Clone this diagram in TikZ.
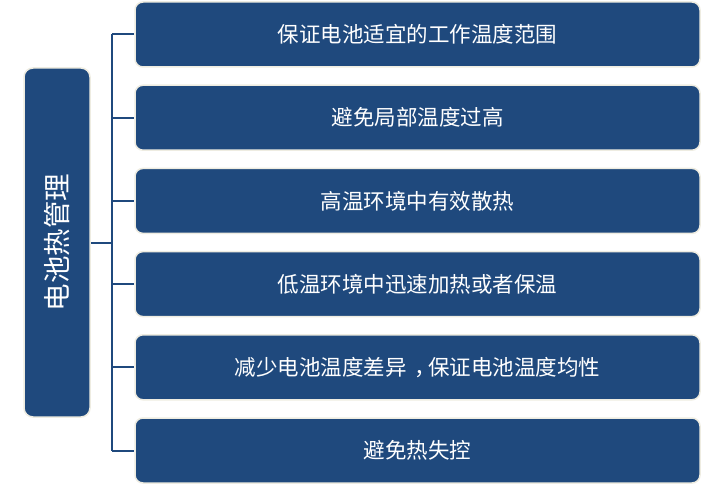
\documentclass[tikz,border=0pt]{standalone}
\usepackage{fontspec}
\newfontfamily\cjk{Noto Sans CJK SC}
\definecolor{navy}{RGB}{31,73,125}
\definecolor{cream}{RGB}{238,236,225}
\newcommand{\midcomma}{\makebox[1em][c]{\makebox[0.3em][l]{，}}}
\begin{document}
\begin{tikzpicture}[x=1pt,y=1pt,
  box/.style={draw=cream,line width=1.5pt,fill=navy,rounded corners=8pt,text=white,
    minimum width=565pt,minimum height=65pt,inner sep=0pt,font=\cjk\fontsize{21.5pt}{25pt}\selectfont},
  mainbox/.style={draw=cream,line width=1.5pt,fill=navy,rounded corners=9pt,
    minimum width=66pt,minimum height=349pt,inner sep=0pt},
  conn/.style={draw=navy,line width=2pt}]
\useasboundingbox (0,0) rectangle (725,488);
\node[mainbox] (L) at (57,245.5) {};
\node[rotate=90,text=white,font=\cjk\fontsize{27.5pt}{31pt}\selectfont] (Lt) at (L.center) {电池热管理};
\node[box] (b1) at (417.5,453.5) {保证电池适宜的工作温度范围};
\node[box] (b2) at (417.5,370.3) {避免局部温度过高};
\node[box] (b3) at (417.5,287.1) {高温环境中有效散热};
\node[box] (b4) at (417.5,203.9) {低温环境中迅速加热或者保温};
\node[box] (b5) at (417.5,120.7) {减少电池温度差异\midcomma 保证电池温度均性};
\node[box] (b6) at (417.5,37.5) {避免热失控};
\coordinate (spine) at (112,245.5);
\draw[conn] (L.east) -- (spine);
\draw[conn] (b1.west -| spine) -- (b6.west -| spine);
\foreach \b in {b1,b2,b3,b4,b5,b6}{
  \draw[conn] (\b.west -| spine) -- (\b.west);
}
\end{tikzpicture}
\end{document}
